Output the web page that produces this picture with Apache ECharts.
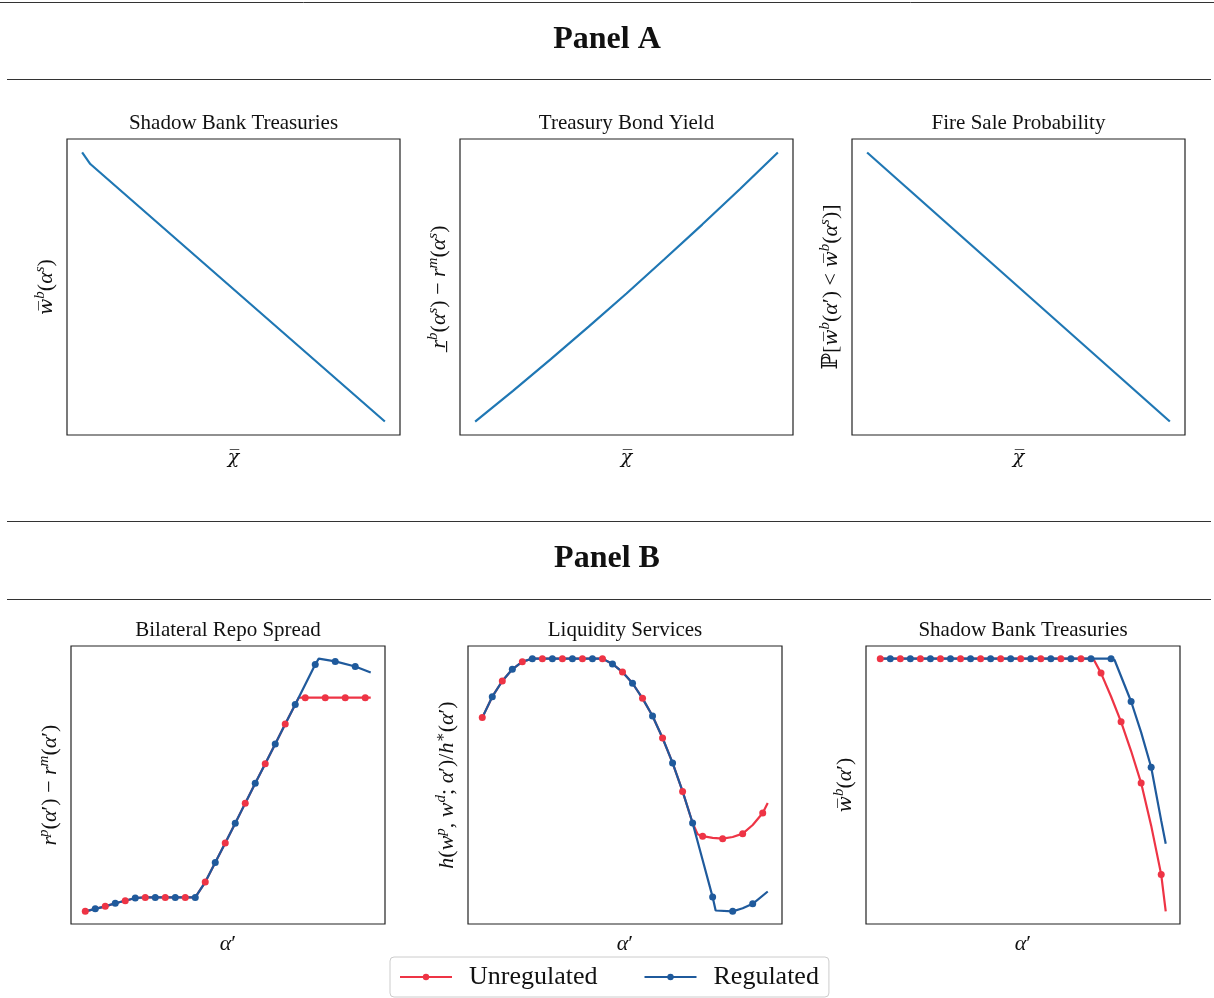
<!DOCTYPE html>
<html>
<head>
<meta charset="utf-8">
<script src="https://cdn.jsdelivr.net/npm/echarts@6/dist/echarts.min.js"></script>
<style>
  html, body { margin: 0; padding: 0; background: #fff; }
  #main { width: 1214px; height: 998px; }
</style>
</head>
<body>
<div id="main"></div>
<script>
// ---- Panel A: comparative statics in chi-bar (x scaled 0..1) ----
let sbtChi = [0, 0.027, 1];
let sbtVal = [1, 0.957, 0];
let yieldChi = [0, 0.125, 0.25, 0.375, 0.5, 0.625, 0.75, 0.875, 1];
let yieldVal = [0, 0.114, 0.232, 0.353, 0.476, 0.603, 0.732, 0.864, 1];
let fireChi = [0, 1];
let fireVal = [1, 0];

// ---- Panel B: alpha' grid index (markers every other point) ----
let repoUnregX = [0,1,2,3,4,5,6,7,8,9,10,11,12,13,14,15,16,17,18,19,20,21,21.35,22,24,26,28,28.55];
let repoUnregY = [4.8,5.7,6.6,7.7,8.6,9.6,9.8,9.8,9.8,9.8,9.8,9.8,15.3,22.3,29.3,36.4,43.6,50.7,57.7,64.8,72.0,79.0,81.4,81.4,81.4,81.4,81.4,81.4];
let repoRegX = [0,1,2,3,4,5,6,7,8,9,10,11,12,13,14,15,16,17,18,19,20,21,23,23.35,25,27,28.55];
let repoRegY = [4.8,5.7,6.6,7.7,8.6,9.6,9.8,9.8,9.8,9.8,9.8,9.8,15.3,22.3,29.3,36.4,43.6,50.7,57.7,64.8,72.0,79.0,93.3,95.4,94.4,92.6,90.4];

let liqUnregX = [0,1,2,3,4,5,6,7,8,9,10,11,12,13,14,15,16,17,18,19,20,21,21.5,22,23,24,25,26,27,28,28.5];
let liqUnregY = [74.1,81.6,87.2,91.4,94.1,95.2,95.2,95.2,95.2,95.2,95.2,95.2,95.2,93.3,90.4,86.4,81.0,74.7,66.8,57.9,47.7,36.4,32.4,31.7,31.1,30.8,31.4,32.6,35.7,40.0,43.6];
let liqRegX = [0,1,2,3,4,5,6,7,8,9,10,11,12,13,14,15,16,17,18,19,20,21,22,23,23.3,25,26,27,28.5];
let liqRegY = [74.1,81.6,87.2,91.4,94.1,95.2,95.2,95.2,95.2,95.2,95.2,95.2,95.2,93.3,90.4,86.4,81.0,74.7,66.8,57.9,47.7,36.4,23.2,9.9,5.1,4.8,5.9,7.5,11.9];

let sbtUnregX = [0,1,2,3,4,5,6,7,8,9,10,11,12,13,14,15,16,17,18,19,20,21,21.3,22,23,24,25,26,27,28,28.45];
let sbtUnregY = [95.2,95.2,95.2,95.2,95.2,95.2,95.2,95.2,95.2,95.2,95.2,95.2,95.2,95.2,95.2,95.2,95.2,95.2,95.2,95.2,95.2,95.2,94.7,90.0,81.6,72.5,62.0,50.5,35.2,17.6,4.4];
let sbtRegX = [0,1,2,3,4,5,6,7,8,9,10,11,12,13,14,15,16,17,18,19,20,21,22,23,23.35,25,26,27,28,28.45];
let sbtRegY = [95.2,95.2,95.2,95.2,95.2,95.2,95.2,95.2,95.2,95.2,95.2,95.2,95.2,95.2,95.2,95.2,95.2,95.2,95.2,95.2,95.2,95.2,95.2,95.2,94.7,79.8,68.7,56.2,37.0,28.7];

let seriesNames = ['Unregulated', 'Regulated'];

const SERIF = '"Liberation Serif", "DejaVu Serif", serif';
const RED = '#ee3445';
const BLUE = '#1f5a9c';
const MPL_BLUE = '#1f77b4';

function pts(xs, ys) {
    return xs.map(function (x, i) { return [x, ys[i]]; });
}

// markers on every other grid point: red on even, blue on odd
function markerSize(parity) {
    return function (v) {
        return (Number.isInteger(v[0]) && v[0] % 2 === parity) ? 7 : 0;
    };
}

let rich = {
    i: { fontFamily: SERIF, fontStyle: 'italic', fontSize: 22, lineHeight: 24, verticalAlign: 'bottom', color: '#111' },
    o: { fontFamily: '"DejaVu Serif", serif', fontStyle: 'italic', fontSize: 19, lineHeight: 24, verticalAlign: 'bottom', color: '#111' },
    n: { fontFamily: SERIF, fontSize: 22, lineHeight: 24, verticalAlign: 'bottom', color: '#111' },
    s: { fontFamily: SERIF, fontStyle: 'italic', fontSize: 15, lineHeight: 16, verticalAlign: 'top', color: '#111' }
};

let grids = [
    { left: 67, top: 139, width: 333, height: 296 },
    { left: 460, top: 139, width: 333, height: 296 },
    { left: 852, top: 139, width: 333, height: 296 },
    { left: 71, top: 646, width: 314, height: 278 },
    { left: 468, top: 646, width: 314, height: 278 },
    { left: 866, top: 646, width: 314, height: 278 }
];
let titles = ['Shadow Bank Treasuries', 'Treasury Bond Yield', 'Fire Sale Probability',
              'Bilateral Repo Spread', 'Liquidity Services', 'Shadow Bank Treasuries'];
let yNames = [
    '{o|w̅}{s|b}{n|(}{i|α}{s|s}{n|)}',
    '{i|r̲}{s|b}{n|(}{i|α}{s|s}{n|) − }{i|r}{s|m}{n|(}{i|α}{s|s}{n|)}',
    '{n|ℙ[}{o|w̅}{s|b}{n|(}{i|α}{n|′) < }{o|w̅}{s|b}{n|(}{i|α}{s|s}{n|)]}',
    '{i|r}{s|p}{n|(}{i|α}{n|′) − }{i|r}{s|m}{n|(}{i|α}{n|′)}',
    '{i|h}{n|(}{i|w}{s|p}{n|, }{i|w}{s|d}{n|; }{i|α}{n|′)/}{i|h}{s|∗}{n|(}{i|α}{n|′)}',
    '{o|w̅}{s|b}{n|(}{i|α}{n|′)}'
];

let pad = function (v) { return v.min - 0.05 * (v.max - v.min); };
let padMax = function (v) { return v.max + 0.05 * (v.max - v.min); };

let xAxes = [], yAxes = [];
grids.forEach(function (g, k) {
    g.show = true;
    g.borderColor = '#222';
    g.borderWidth = 1.2;
    g.backgroundColor = '#fff';
    let panelA = k < 3;
    xAxes.push({
        type: 'value', gridIndex: k,
        min: pad, max: padMax,
        name: panelA ? '{o|χ̅}' : '{i|α}{n|′}',
        nameLocation: 'middle', nameGap: panelA ? 9 : 7,
        nameTextStyle: { rich: rich },
        axisLine: { show: false }, axisTick: { show: false },
        axisLabel: { show: false }, splitLine: { show: false }
    });
    yAxes.push({
        type: 'value', gridIndex: k,
        min: pad, max: padMax,
        name: yNames[k],
        nameLocation: 'middle', nameRotate: 90, nameGap: 10,
        nameTextStyle: { rich: rich },
        axisLine: { show: false }, axisTick: { show: false },
        axisLabel: { show: false }, splitLine: { show: false }
    });
});

let series = [];
function panelALine(k, xs, ys) {
    series.push({
        type: 'line', xAxisIndex: k, yAxisIndex: k,
        data: pts(xs, ys), showSymbol: false,
        lineStyle: { color: MPL_BLUE, width: 2.2 }, itemStyle: { color: MPL_BLUE }
    });
}
panelALine(0, sbtChi, sbtVal);
panelALine(1, yieldChi, yieldVal);
panelALine(2, fireChi, fireVal);

function panelBPair(k, ux, uy, rx, ry) {
    series.push({
        name: seriesNames[0], type: 'line', xAxisIndex: k, yAxisIndex: k,
        data: pts(ux, uy), symbol: 'circle', symbolSize: markerSize(0),
        lineStyle: { color: RED, width: 2.2 }, itemStyle: { color: RED }
    });
    series.push({
        name: seriesNames[1], type: 'line', xAxisIndex: k, yAxisIndex: k,
        data: pts(rx, ry), symbol: 'circle', symbolSize: markerSize(1),
        lineStyle: { color: BLUE, width: 2.2 }, itemStyle: { color: BLUE }
    });
}
panelBPair(3, repoUnregX, repoUnregY, repoRegX, repoRegY);
panelBPair(4, liqUnregX, liqUnregY, liqRegX, liqRegY);
panelBPair(5, sbtUnregX, sbtUnregY, sbtRegX, sbtRegY);

// titles and panel rules
let graphics = [];
function rule(x1, y, x2) {
    graphics.push({ type: 'line', shape: { x1: x1, y1: y, x2: x2, y2: y }, style: { stroke: '#333', lineWidth: 1 } });
}
function label(text, x, y, font) {
    graphics.push({ type: 'text', x: x, y: y,
        style: { text: text, font: font, fill: '#111', align: 'center', textAlign: 'center', verticalAlign: 'middle', textVerticalAlign: 'middle' } });
}
rule(0, 2.5, 1214);
rule(7, 79.5, 1211);
rule(7, 521.5, 1211);
rule(7, 599.5, 1211);
label('Panel A', 607, 40, 'bold 32px ' + SERIF);
label('Panel B', 607, 559, 'bold 32px ' + SERIF);
grids.forEach(function (g, k) {
    label(titles[k], g.left + g.width / 2, k < 3 ? 123 : 630, '21px ' + SERIF);
});

let chart = echarts.init(document.getElementById('main'));
chart.setOption({
    backgroundColor: '#fff',
    animation: false,
    grid: grids,
    xAxis: xAxes,
    yAxis: yAxes,
    series: series,
    graphic: graphics,
    legend: {
        data: seriesNames,
        left: 390, top: 957,
        orient: 'horizontal',
        itemWidth: 52, itemHeight: 8, itemGap: 46,
        padding: [7, 10, 7, 9],
        borderColor: '#ccc', borderWidth: 1, borderRadius: 4,
        textStyle: { fontFamily: SERIF, fontSize: 26, color: '#111', padding: [0, 0, 0, 12] }
    }
});
</script>
</body>
</html>
